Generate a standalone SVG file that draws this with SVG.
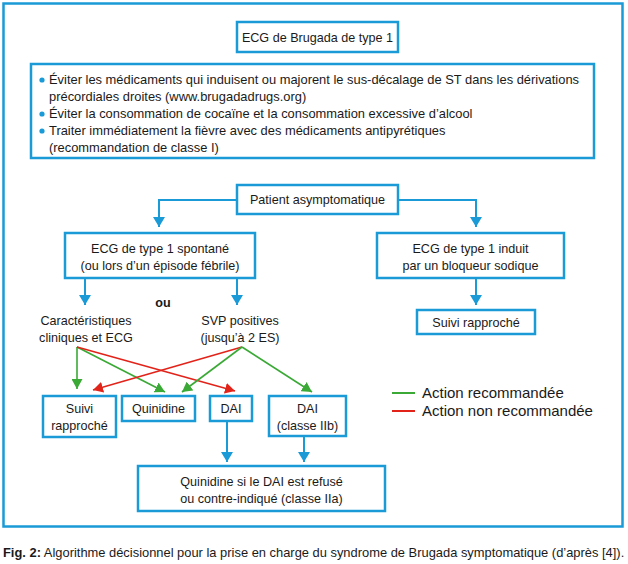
<svg xmlns="http://www.w3.org/2000/svg" width="628" height="564" viewBox="0 0 628 564">
<style>
.box{fill:#fff;stroke:#1a9bd7;stroke-width:2.5}
.t{font-family:"Liberation Sans",Arial,sans-serif;font-size:12.6px;fill:#1a1a1a}
.tb{font-size:12.9px}
.lg{font-size:15px}
.cap{font-size:12.9px}
.c{text-anchor:middle}
.b{stroke:#1a9bd7;stroke-width:2;fill:none}
.g{stroke:#3aa935;stroke-width:1.6;fill:none}
.r{stroke:#e2231a;stroke-width:1.6;fill:none}
</style>
<defs>
<marker id="ab" markerUnits="userSpaceOnUse" markerWidth="10" markerHeight="12" refX="10" refY="6" orient="auto" viewBox="0 0 10 12"><path d="M0,0 L10,6 L0,12 z" fill="#1a9bd7"/></marker>
<marker id="ag" markerUnits="userSpaceOnUse" markerWidth="10" markerHeight="11" refX="10" refY="5.5" orient="auto" viewBox="0 0 10 11"><path d="M0,0 L10,5.5 L0,11 z" fill="#3aa935"/></marker>
<marker id="ar" markerUnits="userSpaceOnUse" markerWidth="10" markerHeight="11" refX="10" refY="5.5" orient="auto" viewBox="0 0 10 11"><path d="M0,0 L10,5.5 L0,11 z" fill="#e2231a"/></marker>
</defs>
<rect x="0" y="0" width="628" height="564" fill="#fff"/>
<rect x="3.5" y="3.5" width="619" height="523" fill="none" stroke="#1a9bd7" stroke-width="2.5"/>

<g id="n-ecg-brugada">
<rect class="box" x="237" y="22" width="161" height="30"/>
<text class="t c" x="317.5" y="41.5">ECG de Brugada de type 1</text>
</g>

<g id="n-recommandations">
<rect class="box" x="31" y="64" width="563" height="94"/>
<circle cx="42" cy="80" r="2.6" fill="#1a9bd7"/>
<circle cx="42" cy="114" r="2.6" fill="#1a9bd7"/>
<circle cx="42" cy="131" r="2.6" fill="#1a9bd7"/>
<text class="t tb" x="49" y="84">Éviter les médicaments qui induisent ou majorent le sus-décalage de ST dans les dérivations</text>
<text class="t tb" x="49" y="101">précordiales droites (www.brugadadrugs.org)</text>
<text class="t tb" x="49" y="118">Éviter la consommation de cocaïne et la consommation excessive d’alcool</text>
<text class="t tb" x="49" y="135">Traiter immédiatement la fièvre avec des médicaments antipyrétiques</text>
<text class="t tb" x="49" y="152">(recommandation de classe I)</text>
</g>

<g id="n-patient">
<rect class="box" x="237" y="185" width="161" height="29"/>
<text class="t c" x="317.5" y="204">Patient asymptomatique</text>
</g>

<g id="n-spontane">
<rect class="box" x="65" y="233" width="190" height="45"/>
<text class="t c" x="160" y="253">ECG de type 1 spontané</text>
<text class="t c" x="160" y="270">(ou lors d’un épisode fébrile)</text>
</g>

<g id="n-induit">
<rect class="box" x="377" y="233" width="187" height="45"/>
<text class="t c" x="470.5" y="253">ECG de type 1 induit</text>
<text class="t c" x="470.5" y="270">par un bloqueur sodique</text>
</g>

<g id="n-ou"><text class="t c" x="163" y="307" font-weight="bold">ou</text></g>

<g id="n-caract">
<text class="t c" x="86" y="325">Caractéristiques</text>
<text class="t c" x="86" y="342">cliniques et ECG</text>
</g>

<g id="n-svp">
<text class="t c" x="240" y="325">SVP positives</text>
<text class="t c" x="240" y="342">(jusqu’à 2 ES)</text>
</g>

<g id="n-suivi-induit">
<rect class="box" x="417" y="310" width="118" height="24"/>
<text class="t c" x="476" y="327">Suivi rapproché</text>
</g>

<g id="n-suivi">
<rect class="box" x="43" y="396" width="73" height="41"/>
<text class="t c" x="79.5" y="413">Suivi</text>
<text class="t c" x="79.5" y="430">rapproché</text>
</g>

<g id="n-quinidine">
<rect class="box" x="122" y="396" width="73" height="25"/>
<text class="t c" x="158.5" y="413">Quinidine</text>
</g>

<g id="n-dai">
<rect class="box" x="210" y="396" width="42" height="25"/>
<text class="t c" x="231" y="413">DAI</text>
</g>

<g id="n-dai-iib">
<rect class="box" x="269" y="396" width="77" height="40"/>
<text class="t c" x="307.5" y="413">DAI</text>
<text class="t c" x="307.5" y="430">(classe IIb)</text>
</g>

<g id="n-quinidine-refus">
<rect class="box" x="138" y="466" width="247" height="45"/>
<text class="t c" x="261.5" y="486">Quinidine si le DAI est refusé</text>
<text class="t c" x="261.5" y="503">ou contre-indiqué (classe IIa)</text>
</g>

<g id="connectors">
<polyline class="b" points="237,200 159,200 159,227" marker-end="url(#ab)"/>
<polyline class="b" points="398,200 476,200 476,227" marker-end="url(#ab)"/>
<line class="b" x1="85" y1="278" x2="85" y2="305" marker-end="url(#ab)"/>
<line class="b" x1="237" y1="278" x2="237" y2="305" marker-end="url(#ab)"/>
<line class="b" x1="476" y1="278" x2="476" y2="305" marker-end="url(#ab)"/>
<line class="b" x1="227" y1="421" x2="227" y2="462" marker-end="url(#ab)"/>
<line class="b" x1="304" y1="436" x2="304" y2="462" marker-end="url(#ab)"/>

<line class="g" x1="77" y1="347" x2="77" y2="389" marker-end="url(#ag)"/>
<line class="g" x1="77" y1="347" x2="165" y2="392" marker-end="url(#ag)"/>
<line class="r" x1="77" y1="347" x2="235" y2="391" marker-end="url(#ar)"/>
<line class="r" x1="242" y1="347" x2="93" y2="390" marker-end="url(#ar)"/>
<line class="g" x1="242" y1="347" x2="182" y2="392" marker-end="url(#ag)"/>
<line class="g" x1="242" y1="347" x2="312" y2="392" marker-end="url(#ag)"/>
</g>

<g id="legend">
<line x1="392" y1="393" x2="415" y2="393" stroke="#3aa935" stroke-width="2"/>
<text class="t lg" x="422" y="398">Action recommandée</text>
<line x1="392" y1="411" x2="415" y2="411" stroke="#e2231a" stroke-width="2"/>
<text class="t lg" x="422" y="416">Action non recommandée</text>
</g>

<text class="t cap" x="3" y="557"><tspan font-weight="bold">Fig. 2:</tspan> Algorithme décisionnel pour la prise en charge du syndrome de Brugada symptomatique (d’après [4]).</text>
</svg>
